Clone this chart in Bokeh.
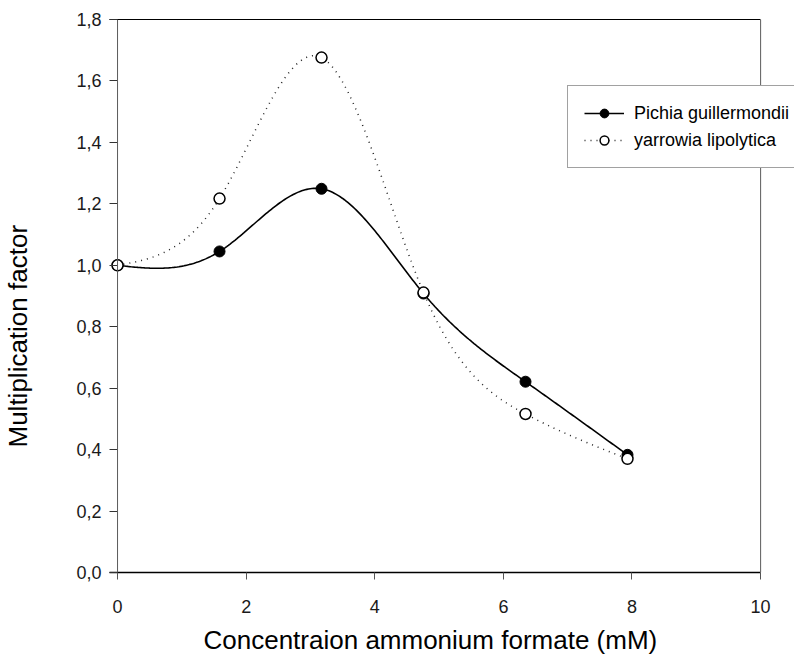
import numpy as np
from bokeh.plotting import figure
from bokeh.models import (Range1d, FixedTicker, Span, Legend, LegendItem,
                          LinearAxis, Title)
from bokeh.embed import file_html
from bokeh.resources import INLINE

# ---- data ----
conc = [0.0, 1.586, 3.172, 4.758, 6.344, 7.930]
pichia = [1.000, 1.045, 1.249, 0.908, 0.621, 0.383]
yarrowia = [1.000, 1.217, 1.676, 0.911, 0.516, 0.370]
series_names = ["Pichia guillermondii", "yarrowia lipolytica"]
x_ticks = [0, 2, 4, 6, 8, 10]
y_ticks = [0.0, 0.2, 0.4, 0.6, 0.8, 1.0, 1.2, 1.4, 1.6, 1.8]
y_tick_labels = ["0,0", "0,2", "0,4", "0,6", "0,8", "1,0", "1,2", "1,4", "1,6", "1,8"]
x_title = "Concentraion ammonium formate (mM)"
y_title = "Multiplication factor"


def natural_spline(xs, ys, n=300):
    x = np.asarray(xs, dtype=float)
    y = np.asarray(ys, dtype=float)
    k = len(x)
    h = np.diff(x)
    A = np.zeros((k, k))
    b = np.zeros(k)
    A[0, 0] = 1.0
    A[-1, -1] = 1.0
    for i in range(1, k - 1):
        A[i, i - 1] = h[i - 1]
        A[i, i] = 2 * (h[i - 1] + h[i])
        A[i, i + 1] = h[i]
        b[i] = 6 * ((y[i + 1] - y[i]) / h[i] - (y[i] - y[i - 1]) / h[i - 1])
    M = np.linalg.solve(A, b)
    xx = np.linspace(x[0], x[-1], n)
    idx = np.clip(np.searchsorted(x, xx) - 1, 0, k - 2)
    x0 = x[idx]
    x1 = x[idx + 1]
    hh = x1 - x0
    t0 = x1 - xx
    t1 = xx - x0
    yy = (M[idx] * t0 ** 3 / (6 * hh) + M[idx + 1] * t1 ** 3 / (6 * hh)
          + (y[idx] / hh - M[idx] * hh / 6) * t0
          + (y[idx + 1] / hh - M[idx + 1] * hh / 6) * t1)
    return xx, yy


FONT = "Liberation Sans"
X0, X1 = -0.125, 10.527   # frame spans a bit beyond the axis box so edge markers and the legend are not clipped

p = figure(width=794, height=656, output_backend="svg", toolbar_location=None,
           x_range=Range1d(X0, X1), y_range=Range1d(0, 1.8),
           min_border_left=108, min_border_right=0, min_border_top=19,
           min_border_bottom=84)
p.outline_line_color = None
p.grid.visible = False
p.background_fill_color = "white"
p.border_fill_color = "white"

# bottom axis
xa = p.xaxis[0]
xa.ticker = FixedTicker(ticks=x_ticks)
xa.bounds = (X0, 10)
xa.axis_line_color = "black"
xa.axis_line_width = 1.3
xa.major_tick_line_color = "#555555"
xa.major_tick_out = 7
xa.major_tick_in = 0
xa.minor_tick_line_color = None
xa.major_label_text_font = FONT
xa.major_label_text_font_size = "18px"
xa.major_label_text_color = "#1a1a1a"
xa.major_label_standoff = 20
xa.axis_label = " "              # blank spacer before the title panel
xa.axis_label_text_font_size = "1px"
xa.axis_label_standoff = 5

# left axis (ticks drawn inward up to the x=0 line)
ya = p.yaxis[0]
ya.ticker = FixedTicker(ticks=y_ticks)
ya.major_label_overrides = {t: lab for t, lab in zip(y_ticks, y_tick_labels)}
ya.axis_line_color = None
ya.major_tick_line_color = "#333333"
ya.major_tick_out = 0
ya.major_tick_in = 8
ya.minor_tick_line_color = None
ya.major_label_text_font = FONT
ya.major_label_text_font_size = "18px"
ya.major_label_text_color = "#1a1a1a"
ya.major_label_standoff = 8
ya.axis_label = " "              # blank spacer before the title panel
ya.axis_label_text_font_size = "1px"
ya.axis_label_standoff = 37

# top frame line
top = LinearAxis(ticker=FixedTicker(ticks=[]), bounds=(X0, 10),
                 axis_line_color="black", axis_line_width=1,
                 major_tick_line_color=None, minor_tick_line_color=None,
                 major_label_text_font_size="0px")
p.add_layout(top, "above")

# left axis line and right frame line
p.add_layout(Span(location=0, dimension="height", line_color="#5a5a5a", line_width=1))
p.add_layout(Span(location=10, dimension="height", line_color="#5a5a5a", line_width=1))

# curves
px, py = natural_spline(conc, pichia)
yx, yy = natural_spline(conc, yarrowia)
l1 = p.line(px, py, line_color="black", line_width=1.6)
l2 = p.line(yx, yy, line_color="#222222", line_width=1.5, line_dash="1 5")
m1 = p.scatter(conc, pichia, marker="circle", size=11, fill_color="black",
               line_color="black", line_width=1)
m2 = p.scatter(conc, yarrowia, marker="circle", size=11, fill_color="white",
               line_color="black", line_width=1.5)

legend = Legend(items=[LegendItem(label=series_names[0], renderers=[l1, m1]),
                       LegendItem(label=series_names[1], renderers=[l2, m2])],
                location=(458, 404))
legend.label_text_font = FONT
legend.label_text_font_size = "18px"
legend.label_text_color = "black"
legend.border_line_color = "#444444"
legend.border_line_width = 1
legend.background_fill_color = "white"
legend.background_fill_alpha = 1
legend.padding = 16
legend.spacing = 5
legend.glyph_width = 40
legend.glyph_height = 22
legend.label_height = 22
legend.label_standoff = 10
legend.margin = 0
p.add_layout(legend, "center")

# axis titles
p.add_layout(Title(text=x_title, text_font=FONT, text_font_size="26px",
                   text_font_style="normal", text_color="black",
                   text_line_height=1.0, vertical_align="top",
                   align="left", offset=94, standoff=0), "below")
p.add_layout(Title(text=y_title, text_font=FONT, text_font_size="26px",
                   text_font_style="normal", text_color="black",
                   text_line_height=1.0, vertical_align="bottom",
                   align="left", offset=125, standoff=0), "left")

open("out.html", "w").write(file_html(p, INLINE))
